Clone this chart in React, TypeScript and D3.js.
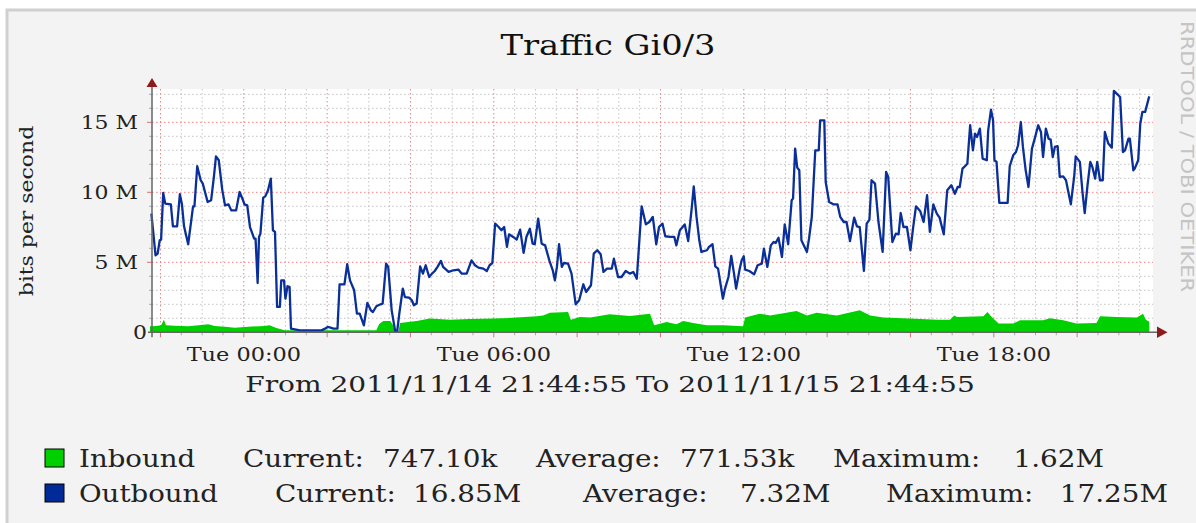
import * as d3 from 'd3';

const title = 'Traffic Gi0/3';
const yLabel = 'bits per second';
const watermark = 'RRDTOOL / TOBI OETIKER';
const startTime = new Date(2011, 10, 14, 21, 44, 55);
const endTime = new Date(2011, 10, 15, 21, 44, 55);
const rangeText = 'From 2011/11/14 21:44:55 To 2011/11/15 21:44:55';

const yTicks = [0, 5, 10, 15];
const yTickLabels = ['0', '5 M', '10 M', '15 M'];
const xTickLabels = ['Tue 00:00', 'Tue 06:00', 'Tue 12:00', 'Tue 18:00'];

// [minutes since start, Mbit/s]
const inbound: [number, number][] = [
  [0, 0.43], [2, 0.43], [9, 0.45], [16, 0.5], [20, 0.9], [23, 0.5], [35, 0.46], [55, 0.43], [70, 0.5],
  [84, 0.57], [93, 0.45], [108, 0.4], [122, 0.33], [141, 0.4], [165, 0.45], [172, 0.5], [182, 0.3],
  [194, 0.14], [260, 0.14], [326, 0.14], [330, 0.6], [336, 0.8], [346, 0.8], [350, 0.5], [353, 0.1],
  [358, 0.1], [360, 0.67], [384, 0.81], [403, 0.98], [432, 0.9], [460, 0.95], [494, 0.98], [528, 1.05],
  [557, 1.14], [566, 1.2], [576, 1.4], [602, 1.45], [606, 0.9], [619, 1.1], [634, 1.05], [662, 1.29],
  [691, 1.17], [720, 1.33], [726, 0.5], [744, 0.74], [758, 0.57], [768, 0.81], [782, 0.67], [802, 0.5],
  [826, 0.5], [854, 0.43], [857, 1.05], [878, 1.33], [893, 1.2], [931, 1.52], [946, 1.2], [960, 1.4],
  [989, 1.2], [1022, 1.57], [1037, 1.2], [1056, 1.05], [1094, 0.98], [1133, 0.9], [1152, 0.9],
  [1158, 1.2], [1162, 1.1], [1200, 1.15], [1206, 1.45], [1212, 1.1], [1222, 0.62], [1243, 0.62],
  [1253, 0.86], [1286, 0.86], [1296, 1.0], [1315, 0.86], [1334, 0.62], [1363, 0.67], [1368, 1.14],
  [1392, 1.1], [1421, 1.05], [1430, 1.33], [1434, 0.9], [1439, 0.75],
];

const outbound: [number, number][] = [
  [2, 8.48], [8, 5.5], [11, 5.62], [14, 6.57], [16, 6.62], [19, 9.95], [22, 9.19], [30, 9.14], [33, 7.57],
  [39, 7.57], [43, 9.86], [46, 9.14], [49, 7.57], [55, 6.29], [62, 9.0], [64, 9.0], [68, 11.86], [73, 10.86],
  [76, 10.62], [83, 9.31], [88, 9.43], [92, 11.1], [95, 12.57], [99, 12.29], [104, 10.19], [108, 9.07],
  [113, 9.14], [117, 8.71], [124, 8.71], [129, 10.02], [134, 9.43], [136, 9.14], [140, 9.07], [144, 7.52],
  [150, 6.69], [152, 6.69], [155, 3.52], [157, 6.81], [159, 7.05], [163, 9.62], [166, 9.71], [170, 10.14],
  [174, 10.98], [177, 7.29], [180, 7.17], [183, 1.81], [187, 1.81], [189, 3.71], [193, 3.71], [195, 2.4],
  [198, 3.29], [201, 3.24], [203, 0.26], [216, 0.14], [247, 0.14], [252, 0.26], [256, 0.38], [260, 0.33],
  [264, 0.26], [270, 0.26], [273, 3.43], [280, 3.43], [284, 4.86], [288, 3.71], [294, 3.0], [298, 1.33],
  [302, 1.33], [308, 0.5], [313, 2.1], [318, 1.57], [321, 1.45], [326, 1.86], [332, 2.0], [335, 2.05],
  [340, 4.9], [343, 4.67], [348, 1.57], [353, 0.1], [356, 0.1], [359, 1.33], [364, 3.12], [367, 2.52],
  [373, 2.48], [377, 2.29], [380, 1.93], [384, 2.05], [389, 4.71], [393, 4.19], [397, 4.79], [402, 3.95],
  [406, 4.19], [410, 4.38], [414, 4.67], [419, 5.1], [422, 4.67], [430, 4.31], [437, 4.43], [444, 4.48],
  [449, 4.19], [456, 4.19], [463, 5.14], [468, 4.79], [473, 4.62], [480, 4.55], [485, 4.38], [489, 4.79],
  [493, 4.95], [497, 7.76], [502, 7.52], [506, 7.29], [510, 7.52], [514, 6.1], [517, 7.0], [523, 6.81],
  [528, 6.62], [533, 7.33], [538, 5.67], [542, 6.81], [547, 7.4], [551, 6.33], [554, 6.29], [559, 8.12],
  [564, 6.33], [569, 6.21], [575, 5.14], [580, 4.43], [583, 3.71], [586, 4.67], [589, 6.29], [593, 4.67],
  [596, 4.95], [602, 4.9], [607, 4.19], [613, 2.0], [618, 2.29], [624, 3.43], [628, 2.88], [635, 3.36],
  [639, 5.62], [644, 5.86], [649, 5.57], [653, 4.31], [658, 4.55], [665, 4.55], [668, 5.26], [674, 3.95],
  [679, 3.95], [685, 4.38], [691, 4.19], [696, 4.31], [701, 3.83], [705, 6.81], [708, 9.0], [714, 7.71],
  [719, 7.88], [724, 8.24], [729, 6.29], [733, 7.52], [738, 7.76], [742, 6.86], [749, 6.81], [755, 6.81],
  [758, 6.21], [763, 7.29], [767, 7.52], [770, 7.71], [775, 6.52], [780, 8.83], [783, 10.43], [787, 8.24],
  [791, 6.57], [794, 5.74], [802, 5.86], [805, 6.1], [810, 6.29], [814, 4.71], [818, 4.55], [825, 2.4],
  [828, 3.12], [833, 3.95], [837, 5.45], [841, 4.19], [844, 3.12], [849, 4.48], [852, 5.14], [855, 5.43],
  [857, 4.48], [863, 4.38], [870, 4.14], [875, 4.79], [881, 4.9], [884, 5.98], [889, 4.67], [894, 6.21],
  [898, 6.45], [901, 6.38], [905, 6.76], [910, 5.38], [914, 7.71], [919, 6.29], [924, 9.43], [926, 9.55],
  [929, 13.12], [932, 11.76], [935, 11.57], [938, 6.57], [946, 5.74], [949, 6.69], [953, 8.24], [958, 13.0],
  [963, 13.0], [965, 15.14], [971, 15.14], [973, 10.74], [978, 9.31], [984, 9.14], [990, 9.14], [994, 8.24],
  [999, 7.88], [1003, 7.88], [1008, 6.52], [1014, 8.19], [1018, 7.57], [1022, 7.52], [1028, 4.38],
  [1032, 7.76], [1036, 8.05], [1039, 10.86], [1044, 10.62], [1049, 7.88], [1055, 5.74], [1060, 11.45],
  [1063, 11.1], [1069, 6.45], [1074, 7.05], [1078, 7.0], [1081, 8.52], [1085, 7.52], [1090, 7.52],
  [1095, 5.86], [1099, 7.52], [1103, 9.0], [1109, 8.67], [1114, 7.88], [1119, 9.79], [1123, 7.17],
  [1128, 9.14], [1133, 8.48], [1137, 8.19], [1143, 7.0], [1148, 10.14], [1154, 10.5], [1159, 9.9],
  [1163, 10.38], [1166, 10.38], [1170, 11.69], [1175, 11.93], [1177, 12.05], [1181, 14.79], [1185, 13.0],
  [1188, 14.19], [1191, 13.95], [1195, 14.55], [1199, 12.4], [1205, 12.29], [1207, 14.43], [1211, 15.9],
  [1214, 15.14], [1216, 12.29], [1219, 12.17], [1223, 9.24], [1235, 9.24], [1238, 11.86], [1243, 12.64],
  [1247, 12.88], [1250, 13.36], [1254, 15.02], [1257, 13.24], [1261, 11.57], [1265, 10.38], [1270, 13.12],
  [1274, 13.83], [1279, 14.79], [1283, 14.31], [1286, 12.52], [1290, 14.55], [1294, 13.83], [1297, 13.76],
  [1300, 12.52], [1303, 13.24], [1307, 13.29], [1310, 11.1], [1315, 11.14], [1319, 10.86], [1326, 9.14],
  [1331, 11.21], [1333, 12.57], [1339, 12.17], [1343, 9.9], [1346, 8.52], [1350, 10.5], [1354, 12.17],
  [1357, 11.81], [1361, 10.98], [1364, 12.17], [1368, 10.86], [1372, 10.86], [1375, 14.31], [1380, 13.48],
  [1385, 13.19], [1388, 17.25], [1392, 17.05], [1397, 16.81], [1401, 12.88], [1404, 13.0], [1409, 13.83],
  [1411, 13.83], [1416, 11.57], [1418, 11.69], [1423, 12.29], [1426, 14.9], [1429, 15.74], [1433, 15.74],
  [1438, 16.69], [1439, 16.85],
];

const legendNames = ['Inbound', 'Outbound'];
const legendColors = ['#00cf00', '#002a97'];
const legendCurrent = ['747.10k', '16.85M'];
const legendAverage = ['771.53k', '7.32M'];
const legendMaximum = ['1.62M', '17.25M'];

const FONT = '"DejaVu Serif", serif';

// rrdtool's font here is wider than DejaVu Serif, so texts are stretched along their baseline
function Txt({ x, y, sx = 1.18, size, anchor = 'start', rotate = 0, fill = '#222', family = FONT, children }: any) {
  return (
    <text
      transform={`translate(${x},${y}) rotate(${rotate}) scale(${sx},1)`}
      textAnchor={anchor}
      fontFamily={family}
      fontSize={size}
      fill={fill}
    >
      {children}
    </text>
  );
}

export default function App() {
  const W = 1196;
  const H = 523;
  const left = 152;
  const right = 1153;
  const top = 89;
  const bottom = 332.3;

  const x = d3.scaleTime().domain([startTime, endTime]).range([150, 1150]);
  const y = d3.scaleLinear().domain([0, 17.4]).range([bottom, 88.7]);
  const at = (m: number) => new Date(startTime.getTime() + m * 60000);

  const line = d3
    .line<[number, number]>()
    .x(d => x(at(d[0])))
    .y(d => y(d[1]));
  const area = d3
    .area<[number, number]>()
    .x(d => x(at(d[0])))
    .y0(y(0))
    .y1(d => y(d[1]));

  const minorX = d3.timeMinute.every(30)!.range(startTime, endTime).filter(d => d.getMinutes() === 30 || d.getHours() % 2 === 1);
  const majorX = d3.timeHour.every(2)!.range(startTime, endTime);
  const labelX = d3.timeHour.every(6)!.range(startTime, endTime);
  const minorY = d3.range(1, 18).filter(v => v % 5 !== 0);
  const majorY = yTicks.filter(v => v > 0);

  const legendCols = [
    { cur: 243, curV: 383, avg: 536, avgV: 680, max: 833, maxV: 1104 },
    { cur: 275, curV: 413, avg: 583, avgV: 740, max: 886, maxV: 1168 },
  ];

  return (
    <svg width={W} height={H} style={{ position: 'absolute', left: 0, top: 0, background: '#fff' }}>
      <rect x={7} y={10} width={W} height={H} fill="#f3f3f3" stroke="#d0d0d0" strokeWidth={3} />
      <Txt x={608} y={55} size={27} sx={1.25} anchor="middle" fill="#111">
        {title}
      </Txt>
      <Txt x={1181} y={21} size={17} sx={1.24} rotate={90} fill="#c4c4c4" family='"DejaVu Sans", sans-serif'>
        {watermark}
      </Txt>

      <rect x={left} y={top} width={right - left} height={bottom - top} fill="#fff" />

      {minorY.map(v => (
        <g key={`my${v}`}>
          <line x1={left} x2={right} y1={y(v)} y2={y(v)} stroke="#c4c4c4" strokeDasharray="1.5 2.5" />
          <line x1={left - 3} x2={left} y1={y(v)} y2={y(v)} stroke="#aaa" />
        </g>
      ))}
      {minorX.map(d => (
        <g key={`mx${d.getTime()}`}>
          <line x1={x(d)} x2={x(d)} y1={top} y2={bottom} stroke="#c4c4c4" strokeDasharray="1.5 2.5" />
          <line x1={x(d)} x2={x(d)} y1={bottom} y2={bottom + 3} stroke="#aaa" />
        </g>
      ))}
      {majorY.map(v => (
        <g key={`My${v}`}>
          <line x1={left} x2={right} y1={y(v)} y2={y(v)} stroke="#f08080" strokeDasharray="1.5 2.5" />
          <line x1={left - 5} x2={left} y1={y(v)} y2={y(v)} stroke="#e07070" />
        </g>
      ))}
      {majorX.map(d => (
        <g key={`Mx${d.getTime()}`}>
          <line x1={x(d)} x2={x(d)} y1={top} y2={bottom} stroke="#f08080" strokeDasharray="1.5 2.5" />
          <line x1={x(d)} x2={x(d)} y1={bottom} y2={bottom + 5} stroke="#e07070" />
        </g>
      ))}

      <path d={area(inbound) ?? ''} fill="#00cf00" />
      <path d={line(outbound) ?? ''} fill="none" stroke="#0a2f99" strokeWidth={2.3} strokeLinejoin="round" />

      <line x1={left} x2={left} y1={bottom + 5} y2={84} stroke="#666" strokeWidth={1.5} />
      <path d={`M${left - 5.5},${87} L${left + 5.5},${87} L${left},${78} Z`} fill="#8e1b1b" />
      <line x1={148} x2={1160} y1={bottom} y2={bottom} stroke="#666" strokeWidth={1.5} />
      <path d={`M1157,${bottom - 5.8} L1157,${bottom + 5.8} L1167.5,${bottom} Z`} fill="#8e1b1b" />

      {yTicks.map((v, i) => (
        <Txt key={`yl${v}`} x={v === 0 ? 147 : 138} y={y(v) + 6.5} size={18} sx={1.22} anchor="end">
          {yTickLabels[i]}
        </Txt>
      ))}
      {labelX.map((d, i) => (
        <Txt key={`xl${i}`} x={x(d)} y={361} size={19} sx={1.18} anchor="middle">
          {xTickLabels[i]}
        </Txt>
      ))}
      <Txt x={33} y={211} size={18} sx={1.22} rotate={-90} anchor="middle">
        {yLabel}
      </Txt>
      <Txt x={610} y={392} size={23} sx={1.22} anchor="middle">
        {rangeText}
      </Txt>

      {legendNames.map((name, i) => {
        const by = 467 + i * 35;
        const c = legendCols[i];
        return (
          <g key={name}>
            <rect x={45} y={by - 18} width={19} height={18} fill={legendColors[i]} stroke="#000" strokeWidth={1} />
            <Txt x={79} y={by} size={24} sx={1.15}>{name}</Txt>
            <Txt x={c.cur} y={by} size={24} sx={1.16}>Current:</Txt>
            <Txt x={c.curV} y={by} size={24} sx={1.16}>{legendCurrent[i]}</Txt>
            <Txt x={c.avg} y={by} size={24} sx={1.16}>Average:</Txt>
            <Txt x={c.avgV} y={by} size={24} sx={1.16}>{legendAverage[i]}</Txt>
            <Txt x={c.max} y={by} size={24} sx={1.14}>Maximum:</Txt>
            <Txt x={c.maxV} y={by} size={24} sx={1.16} anchor="end">{legendMaximum[i]}</Txt>
          </g>
        );
      })}
    </svg>
  );
}
